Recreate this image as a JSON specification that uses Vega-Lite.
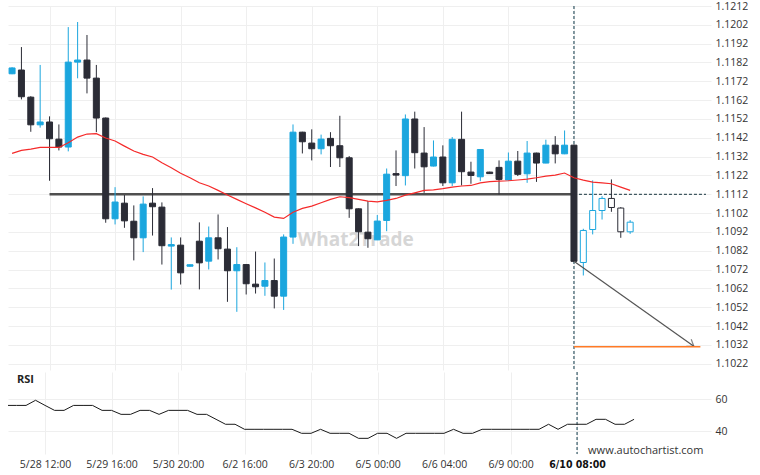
{
  "$schema": "https://vega.github.io/schema/vega-lite/v6.json",
  "padding": {"left": 8, "top": 1, "right": 0, "bottom": 0},
  "background": "white",
  "spacing": 0,
  "config": {
    "view": {"stroke": null},
    "font": "Open Sans",
    "axis": {"labelFont": "Open Sans", "labelFontSize": 10.5, "labelColor": "#333333", "gridColor": "#efefef", "gridWidth": 1, "domain": false, "ticks": false, "title": null, "labelOverlap": false}
  },
  "datasets": {
    "k": [
      {"i":0,"o":1.11760,"h":1.11795,"l":1.11758,"c":1.11791,"ma":1.11337,"rsi":56.2},
      {"i":1,"o":1.11780,"h":1.11902,"l":1.11624,"c":1.11638,"ma":1.11353,"rsi":56.2},
      {"i":2,"o":1.11636,"h":1.11641,"l":1.11452,"c":1.11489,"ma":1.11360,"rsi":56.2},
      {"i":3,"o":1.11489,"h":1.11807,"l":1.11474,"c":1.11504,"ma":1.11369,"rsi":59.4},
      {"i":4,"o":1.11504,"h":1.11534,"l":1.11192,"c":1.11415,"ma":1.11369,"rsi":56.2},
      {"i":5,"o":1.11413,"h":1.11491,"l":1.11353,"c":1.11371,"ma":1.11369,"rsi":53.1},
      {"i":6,"o":1.11371,"h":1.12008,"l":1.11348,"c":1.11822,"ma":1.11394,"rsi":53.1},
      {"i":7,"o":1.11822,"h":1.12035,"l":1.11736,"c":1.11833,"ma":1.11424,"rsi":56.2},
      {"i":8,"o":1.11833,"h":1.11966,"l":1.11656,"c":1.11737,"ma":1.11440,"rsi":56.2},
      {"i":9,"o":1.11737,"h":1.11807,"l":1.11450,"c":1.11525,"ma":1.11442,"rsi":56.2},
      {"i":10,"o":1.11525,"h":1.11528,"l":1.10969,"c":1.10990,"ma":1.11419,"rsi":53.1},
      {"i":11,"o":1.10990,"h":1.11158,"l":1.10960,"c":1.11079,"ma":1.11403,"rsi":53.1},
      {"i":12,"o":1.11073,"h":1.11116,"l":1.10942,"c":1.10979,"ma":1.11376,"rsi":50.6},
      {"i":13,"o":1.10977,"h":1.11061,"l":1.10769,"c":1.10889,"ma":1.11350,"rsi":50.6},
      {"i":14,"o":1.10889,"h":1.11109,"l":1.10813,"c":1.11068,"ma":1.11332,"rsi":53.1},
      {"i":15,"o":1.11073,"h":1.11153,"l":1.10901,"c":1.11054,"ma":1.11318,"rsi":53.1},
      {"i":16,"o":1.11052,"h":1.11077,"l":1.10747,"c":1.10847,"ma":1.11288,"rsi":50.6},
      {"i":17,"o":1.10845,"h":1.10891,"l":1.10614,"c":1.10853,"ma":1.11261,"rsi":53.1},
      {"i":18,"o":1.10850,"h":1.10891,"l":1.10641,"c":1.10703,"ma":1.11232,"rsi":53.1},
      {"i":19,"o":1.10738,"h":1.10747,"l":1.10736,"c":1.10746,"ma":1.11208,"rsi":53.1},
      {"i":20,"o":1.10871,"h":1.10971,"l":1.10615,"c":1.10756,"ma":1.11181,"rsi":50.6},
      {"i":21,"o":1.10765,"h":1.10949,"l":1.10721,"c":1.10889,"ma":1.11164,"rsi":50.6},
      {"i":22,"o":1.10889,"h":1.11013,"l":1.10774,"c":1.10831,"ma":1.11141,"rsi":47.5},
      {"i":23,"o":1.10829,"h":1.10946,"l":1.10549,"c":1.10714,"ma":1.11116,"rsi":44.4},
      {"i":24,"o":1.10714,"h":1.10839,"l":1.10496,"c":1.10747,"ma":1.11093,"rsi":44.4},
      {"i":25,"o":1.10747,"h":1.10750,"l":1.10588,"c":1.10645,"ma":1.11070,"rsi":41.25},
      {"i":26,"o":1.10643,"h":1.10816,"l":1.10593,"c":1.10629,"ma":1.11048,"rsi":41.25},
      {"i":27,"o":1.10632,"h":1.10758,"l":1.10581,"c":1.10662,"ma":1.11025,"rsi":41.25},
      {"i":28,"o":1.10662,"h":1.10779,"l":1.10514,"c":1.10579,"ma":1.10999,"rsi":41.25},
      {"i":29,"o":1.10579,"h":1.10907,"l":1.10506,"c":1.10893,"ma":1.10992,"rsi":41.25},
      {"i":30,"o":1.10893,"h":1.11491,"l":1.10857,"c":1.11450,"ma":1.11025,"rsi":41.25},
      {"i":31,"o":1.11450,"h":1.11452,"l":1.11337,"c":1.11399,"ma":1.11045,"rsi":38.75},
      {"i":32,"o":1.11392,"h":1.11465,"l":1.11300,"c":1.11362,"ma":1.11057,"rsi":38.75},
      {"i":33,"o":1.11362,"h":1.11437,"l":1.11332,"c":1.11413,"ma":1.11075,"rsi":41.25},
      {"i":34,"o":1.11417,"h":1.11450,"l":1.11265,"c":1.11378,"ma":1.11093,"rsi":38.75},
      {"i":35,"o":1.11378,"h":1.11537,"l":1.11265,"c":1.11314,"ma":1.11107,"rsi":38.75},
      {"i":36,"o":1.11314,"h":1.11323,"l":1.10995,"c":1.11043,"ma":1.11102,"rsi":38.75},
      {"i":37,"o":1.11043,"h":1.11045,"l":1.10845,"c":1.10921,"ma":1.11093,"rsi":35.6},
      {"i":38,"o":1.10919,"h":1.11084,"l":1.10836,"c":1.10884,"ma":1.11084,"rsi":35.6},
      {"i":39,"o":1.10878,"h":1.11010,"l":1.10877,"c":1.10978,"ma":1.11080,"rsi":38.75},
      {"i":40,"o":1.10981,"h":1.11257,"l":1.10924,"c":1.11227,"ma":1.11088,"rsi":38.75},
      {"i":41,"o":1.11230,"h":1.11353,"l":1.11164,"c":1.11222,"ma":1.11098,"rsi":35.6},
      {"i":42,"o":1.11219,"h":1.11544,"l":1.11167,"c":1.11520,"ma":1.11116,"rsi":38.75},
      {"i":43,"o":1.11520,"h":1.11559,"l":1.11257,"c":1.11341,"ma":1.11128,"rsi":38.75},
      {"i":44,"o":1.11339,"h":1.11477,"l":1.11128,"c":1.11266,"ma":1.11141,"rsi":38.75},
      {"i":45,"o":1.11270,"h":1.11406,"l":1.11268,"c":1.11318,"ma":1.11144,"rsi":38.75},
      {"i":46,"o":1.11318,"h":1.11380,"l":1.11164,"c":1.11181,"ma":1.11150,"rsi":38.75},
      {"i":47,"o":1.11181,"h":1.11424,"l":1.11164,"c":1.11412,"ma":1.11158,"rsi":41.25},
      {"i":48,"o":1.11412,"h":1.11559,"l":1.11167,"c":1.11240,"ma":1.11164,"rsi":38.75},
      {"i":49,"o":1.11238,"h":1.11293,"l":1.11176,"c":1.11220,"ma":1.11167,"rsi":38.75},
      {"i":50,"o":1.11213,"h":1.11360,"l":1.11190,"c":1.11358,"ma":1.11181,"rsi":41.25},
      {"i":51,"o":1.11238,"h":1.11240,"l":1.11228,"c":1.11230,"ma":1.11187,"rsi":41.25},
      {"i":52,"o":1.11263,"h":1.11300,"l":1.11119,"c":1.11199,"ma":1.11190,"rsi":41.25},
      {"i":53,"o":1.11196,"h":1.11342,"l":1.11193,"c":1.11296,"ma":1.11192,"rsi":41.25},
      {"i":54,"o":1.11296,"h":1.11350,"l":1.11217,"c":1.11226,"ma":1.11196,"rsi":41.25},
      {"i":55,"o":1.11229,"h":1.11403,"l":1.11181,"c":1.11339,"ma":1.11201,"rsi":41.25},
      {"i":56,"o":1.11339,"h":1.11341,"l":1.11186,"c":1.11286,"ma":1.11208,"rsi":41.25},
      {"i":57,"o":1.11286,"h":1.11410,"l":1.11285,"c":1.11381,"ma":1.11217,"rsi":44.4},
      {"i":58,"o":1.11381,"h":1.11429,"l":1.11284,"c":1.11335,"ma":1.11222,"rsi":41.25},
      {"i":59,"o":1.11335,"h":1.11459,"l":1.11333,"c":1.11381,"ma":1.11233,"rsi":44.4},
      {"i":60,"o":1.11381,"h":1.11385,"l":1.10760,"c":1.10764,"ma":1.11208,"rsi":44.4},
      {"i":61,"o":1.10758,"h":1.10937,"l":1.10689,"c":1.10928,"ma":1.11195,"rsi":44.4},
      {"i":62,"o":1.10933,"h":1.11194,"l":1.10907,"c":1.11034,"ma":1.11185,"rsi":47.5},
      {"i":63,"o":1.11034,"h":1.11110,"l":1.10986,"c":1.11098,"ma":1.11181,"rsi":47.5},
      {"i":64,"o":1.11098,"h":1.11199,"l":1.11027,"c":1.11050,"ma":1.11176,"rsi":44.4},
      {"i":65,"o":1.11047,"h":1.11052,"l":1.10889,"c":1.10921,"ma":1.11158,"rsi":44.4},
      {"i":66,"o":1.10921,"h":1.10983,"l":1.10910,"c":1.10972,"ma":1.11141,"rsi":47.5}
    ]
  },
  "vconcat": [
    {
      "width": 703,
      "height": 364,
      "layer": [
        {
          "data": {"values": [{}]},
          "mark": {"type": "text", "text": "What2Trade", "fontSize": 19, "fontWeight": "bold", "color": "#d6d6d6", "font": "Open Sans", "align": "center", "baseline": "middle"},
          "encoding": {
            "x": {"datum": 36.7, "type": "quantitative", "scale": {"domain": [0.1, 74.1], "nice": false, "zero": false},
              "axis": {"values": [4, 11, 18, 25, 32, 39, 46, 53, 60], "tickCount": 30, "labels": false, "grid": true, "orient": "bottom"}},
            "y": {"datum": 1.10877, "type": "quantitative", "scale": {"domain": [1.10187, 1.1212], "nice": false, "zero": false},
              "axis": {"orient": "right", "values": [1.1022,1.1032,1.1042,1.1052,1.1062,1.1072,1.1082,1.1092,1.1102,1.1112,1.1122,1.1132,1.1142,1.1152,1.1162,1.1172,1.1182,1.1192,1.1202,1.1212], "tickCount": 40, "format": ".4f", "grid": true, "labelPadding": 4, "labelOverlap": false}}
          }
        },
        {
          "data": {"values": [{}]},
          "mark": {"type": "rule", "color": "#4f4f4f", "strokeWidth": 2.6},
          "encoding": {
            "x": {"datum": 4, "type": "quantitative"},
            "x2": {"datum": 60},
            "y": {"datum": 1.1112, "type": "quantitative"}
          }
        },
        {
          "data": {"values": [{}]},
          "mark": {"type": "rule", "color": "#15323d", "strokeWidth": 1, "strokeDash": [3, 2]},
          "encoding": {
            "x": {"datum": 60, "type": "quantitative"},
            "x2": {"datum": 74.1},
            "y": {"datum": 1.1112, "type": "quantitative"}
          }
        },
        {
          "data": {"values": [{}]},
          "mark": {"type": "rule", "color": "#0f3a4a", "strokeWidth": 1, "strokeDash": [3, 2]},
          "encoding": {
            "x": {"datum": 60, "type": "quantitative"}
          }
        },
        {
          "data": {"name": "k"},
          "mark": {"type": "rule", "strokeWidth": 1, "clip": true},
          "encoding": {
            "x": {"field": "i", "type": "quantitative"},
            "y": {"field": "l", "type": "quantitative"},
            "y2": {"field": "h"},
            "color": {"condition": {"test": "datum.c >= datum.o", "value": "#1ba6de"}, "value": "#2b2c36"}
          }
        },
        {
          "data": {"name": "k"},
          "mark": {"type": "bar", "size": 6, "strokeWidth": 1, "orient": "vertical", "clip": true},
          "encoding": {
            "x": {"field": "i", "type": "quantitative"},
            "y": {"field": "o", "type": "quantitative"},
            "y2": {"field": "c"},
            "fill": {"condition": [{"test": "datum.i > 60", "value": "#ffffff"}, {"test": "datum.c >= datum.o", "value": "#1ba6de"}], "value": "#2b2c36"},
            "stroke": {"condition": {"test": "datum.c >= datum.o", "value": "#1ba6de"}, "value": "#2b2c36"}
          }
        },
        {
          "data": {"name": "k"},
          "mark": {"type": "line", "color": "#f52a2a", "strokeWidth": 1.2, "clip": true},
          "encoding": {
            "x": {"field": "i", "type": "quantitative"},
            "y": {"field": "ma", "type": "quantitative"}
          }
        },
        {
          "data": {"values": [{}]},
          "mark": {"type": "rule", "color": "#555555", "strokeWidth": 1.2},
          "encoding": {
            "x": {"datum": 60, "type": "quantitative"},
            "x2": {"datum": 72.8},
            "y": {"datum": 1.10764, "type": "quantitative"},
            "y2": {"datum": 1.10313}
          }
        },
        {
          "data": {"values": [{}]},
          "mark": {"type": "point", "shape": "M-1,-0.7L0,0L-1,0.7", "angle": 34.6, "size": 150, "filled": false, "stroke": "#555555", "strokeWidth": 1.2},
          "encoding": {
            "x": {"datum": 72.8, "type": "quantitative"},
            "y": {"datum": 1.10313, "type": "quantitative"}
          }
        },
        {
          "data": {"values": [{}]},
          "mark": {"type": "rule", "color": "#ff7a26", "strokeWidth": 1.5},
          "encoding": {
            "x": {"datum": 60, "type": "quantitative"},
            "x2": {"datum": 73.5},
            "y": {"datum": 1.1031, "type": "quantitative"}
          }
        }
      ]
    },
    {
      "width": 703,
      "height": 82,
      "layer": [
        {
          "data": {"values": [{}]},
          "mark": {"type": "rule", "color": "#0f3a4a", "strokeWidth": 1, "strokeDash": [3, 2]},
          "encoding": {
            "x": {"datum": 60, "type": "quantitative", "scale": {"domain": [0.1, 74.1], "nice": false, "zero": false}}
          }
        },
        {
          "data": {"name": "k"},
          "mark": {"type": "line", "color": "#1a1a1a", "strokeWidth": 1, "clip": true},
          "encoding": {
            "x": {"field": "i", "type": "quantitative",
              "axis": {"values": [4, 11, 18, 25, 32, 39, 46, 53, 60], "tickCount": 30, "grid": true, "orient": "bottom", "labelPadding": 5, "labelOverlap": false,
                "labelExpr": "datum.value == 4 ? '5/28 12:00' : datum.value == 11 ? '5/29 16:00' : datum.value == 18 ? '5/30 20:00' : datum.value == 25 ? '6/2 16:00' : datum.value == 32 ? '6/3 20:00' : datum.value == 39 ? '6/5 00:00' : datum.value == 46 ? '6/6 04:00' : datum.value == 53 ? '6/9 00:00' : '6/10 08:00'",
                "labelFontWeight": {"condition": {"test": "datum.value == 60", "value": "bold"}, "value": "normal"},
                "labelFont": {"condition": {"test": "datum.value == 60", "value": "'Liberation Sans Narrow', 'DejaVu Sans Condensed', sans-serif"}, "value": "Open Sans"},
                "labelColor": {"condition": {"test": "datum.value == 60", "value": "#111111"}, "value": "#333333"}}},
            "y": {"field": "rsi", "type": "quantitative", "scale": {"domain": [25.8, 77.1], "nice": false, "zero": false},
              "axis": {"orient": "right", "values": [40, 60], "tickCount": 10, "grid": true, "labelPadding": 4, "labelOverlap": false}}
          }
        },
        {
          "data": {"values": [{}]},
          "mark": {"type": "text", "text": "RSI", "fontSize": 11, "fontWeight": "bold", "color": "#222222", "align": "left", "baseline": "middle"},
          "encoding": {
            "x": {"datum": 1.05, "type": "quantitative"},
            "y": {"datum": 71.9, "type": "quantitative"}
          }
        },
        {
          "data": {"values": [{}]},
          "mark": {"type": "text", "text": "www.autochartist.com", "fontSize": 11, "color": "#333333", "align": "right", "baseline": "middle"},
          "encoding": {
            "x": {"datum": 73.3, "type": "quantitative"},
            "y": {"datum": 27.9, "type": "quantitative"}
          }
        }
      ]
    }
  ]
}
